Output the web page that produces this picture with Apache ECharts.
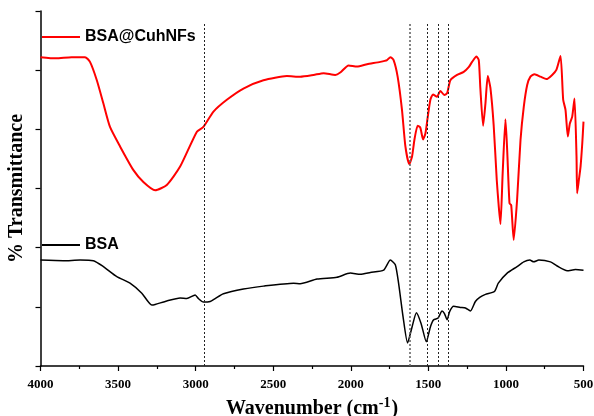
<!DOCTYPE html>
<html>
<head>
<meta charset="utf-8">
<script src="https://cdn.jsdelivr.net/npm/echarts@6/dist/echarts.min.js"></script>
<style>html,body{margin:0;padding:0;background:#fff;}#c{width:594px;height:416px;}</style>
</head>
<body>
<div id="c"></div>
<script>
// Wavenumber (cm-1) and % Transmittance (arbitrary units, offset) for each spectrum
const redWn = [4000,3900,3800,3713,3681,3637,3595,3552,3487,3401,3337,3261,3186,3100,2992,2950,2885,2799,2692,2563,2412,2326,2240,2175,2100,2068,2014,1960,1895,1810,1766,1745,1724,1698,1670,1648,1623,1605,1590,1569,1552,1534,1519,1505,1487,1470,1444,1423,1397,1379,1358,1315,1272,1240,1218,1190,1175,1165,1147,1132,1117,1100,1079,1059,1046,1035,1021,1003,992,977,966,950,928,906,885,863,842,816,777,739,702,674,648,631,616,601,588,573,558,545,541,530,519,508,500];
const redT  = [5.22,5.20,5.22,5.22,5.14,4.83,4.44,4.04,3.71,3.31,3.11,2.97,3.06,3.37,3.96,4.04,4.30,4.50,4.69,4.83,4.90,4.89,4.92,4.95,4.92,4.96,5.08,5.06,5.10,5.14,5.17,5.22,5.17,4.89,4.33,3.71,3.41,3.54,3.82,4.06,4.03,3.83,3.93,4.19,4.50,4.59,4.55,4.65,4.58,4.61,4.83,4.92,4.97,5.05,5.14,5.23,5.17,4.70,4.06,4.44,4.90,4.70,4.07,3.14,2.69,2.40,3.26,4.17,3.65,2.75,2.72,2.13,2.81,3.82,4.38,4.75,4.89,4.93,4.89,4.85,4.92,5.01,5.24,4.50,4.33,3.88,4.10,4.21,4.52,3.54,2.92,3.14,3.37,3.76,4.13];

const blackWn = [4000,3853,3745,3659,3595,3508,3423,3347,3283,3261,3186,3100,3057,3003,2982,2950,2906,2874,2821,2692,2563,2369,2326,2218,2089,2003,1939,1874,1788,1745,1713,1692,1663,1634,1605,1577,1547,1513,1487,1466,1437,1412,1397,1379,1363,1337,1294,1261,1229,1197,1169,1132,1074,1049,992,928,885,846,821,788,713,670,605,552,500];
const blackT  = [1.79,1.78,1.79,1.78,1.68,1.51,1.40,1.23,1.03,1.04,1.10,1.15,1.14,1.20,1.14,1.08,1.09,1.14,1.22,1.30,1.35,1.40,1.39,1.47,1.50,1.57,1.55,1.58,1.62,1.79,1.71,1.40,0.83,0.39,0.66,0.90,0.72,0.41,0.66,0.78,0.81,0.93,0.89,0.78,0.92,1.01,0.99,0.98,0.93,1.09,1.16,1.21,1.26,1.40,1.57,1.68,1.76,1.79,1.76,1.79,1.76,1.69,1.61,1.63,1.62];

const seriesNames = ['BSA@CuhNFs', 'BSA'];
const xTicks = [4000, 3500, 3000, 2500, 2000, 1500, 1000, 500];
const refLines = [2945, 1623, 1508, 1437, 1375];
const refTop = 5.8;

const pair = (xs, ys) => xs.map((x, i) => [x, ys[i]]);
const serif = 'Liberation Serif';
const sans = 'Liberation Sans';

const chart = echarts.init(document.getElementById('c'), null, {renderer: 'canvas'});
chart.setOption({
  animation: false,
  backgroundColor: '#fff',
  grid: {left: 40.5, right: 10.5, top: 11, bottom: 50, containLabel: false, outerBoundsMode: 'none'},
  legend: [
    {data: [seriesNames[0]], left: 42, top: 29, padding: 0, icon: 'rect', itemWidth: 38, itemHeight: 2,
     textStyle: {fontFamily: sans, fontWeight: 'bold', fontSize: 16, color: '#000'}},
    {data: [seriesNames[1]], left: 42, top: 237, padding: 0, icon: 'rect', itemWidth: 38, itemHeight: 2,
     textStyle: {fontFamily: sans, fontWeight: 'bold', fontSize: 16, color: '#000'}}
  ],
  xAxis: {
    type: 'value', inverse: true, min: 500, max: 4000, interval: 500,
    axisLine: {lineStyle: {color: '#000', width: 1.5}},
    axisTick: {show: true, inside: false, length: 5, lineStyle: {color: '#000', width: 1.2}},
    minorTick: {show: true, splitNumber: 2, length: 3, lineStyle: {color: '#000', width: 1.2}},
    splitLine: {show: false},
    axisLabel: {
      margin: 12, fontFamily: serif, fontWeight: 'bold', fontSize: 13, color: '#000',
      formatter: v => xTicks.includes(v) ? String(v) : ''
    },
    name: '{a|Wavenumber (cm}{s|-1}{a|)}',
    nameLocation: 'middle', nameGap: 27,
    nameTextStyle: {
      rich: {
        a: {fontFamily: serif, fontWeight: 'bold', fontSize: 20, color: '#000', verticalAlign: 'bottom', lineHeight: 23},
        s: {fontFamily: serif, fontWeight: 'bold', fontSize: 14, color: '#000', verticalAlign: 'top', lineHeight: 23, padding: [0,1,8,0]}
      }
    }
  },
  yAxis: {
    type: 'value', min: 0, max: 6, interval: 1,
    axisLine: {show: true, lineStyle: {color: '#000', width: 1.5}},
    axisTick: {show: true, inside: false, length: 5, lineStyle: {color: '#000', width: 1.2}},
    axisLabel: {show: false},
    splitLine: {show: false},
    name: '% Transmittance', nameLocation: 'middle', nameGap: 14, nameRotate: 90,
    nameTextStyle: {fontFamily: serif, fontWeight: 'bold', fontSize: 20, color: '#000'}
  },
  series: [
    {
      name: seriesNames[0], type: 'line', data: pair(redWn, redT), showSymbol: false, symbol: 'none',
      lineStyle: {color: '#ff0000', width: 2}, itemStyle: {color: '#ff0000'}, smooth: 0.2,
      markLine: {
        silent: true, symbol: 'none', label: {show: false},
        data: refLines.map((x, i) => [
          {coord: [x, 0], lineStyle: {color: i === 1 ? '#666' : '#222', width: i === 1 ? 1.6 : 1, type: [2, 2]}},
          {coord: [x, refTop]}
        ])
      }
    },
    {
      name: seriesNames[1], type: 'line', data: pair(blackWn, blackT), showSymbol: false, symbol: 'none',
      lineStyle: {color: '#000', width: 1.5}, itemStyle: {color: '#000'}, smooth: 0.2
    }
  ]
});
</script>
</body>
</html>
